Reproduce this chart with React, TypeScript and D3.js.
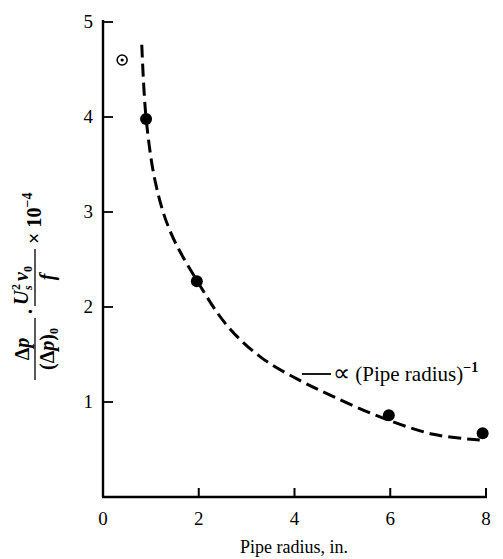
import React from "react";
import * as d3 from "d3";

const xTicks = [0, 2, 4, 6, 8];
const yTicks = [1, 2, 3, 4, 5];
const filledX = [0.9, 1.96, 5.97, 7.93];
const filledY = [3.98, 2.27, 0.86, 0.67];
const openX = [0.4];
const openY = [4.6];
const curveX = [0.81, 0.9, 1.1, 1.4, 1.96, 2.6, 3.3, 4.1, 4.8, 5.8, 6.9, 7.87];
const curveY = [4.76, 3.99, 3.3, 2.8, 2.28, 1.8, 1.47, 1.23, 1.06, 0.84, 0.66, 0.6];

const W = 503;
const H = 559;
const FONT = '"Liberation Serif", serif';

export default function App() {
  const x = d3.scaleLinear().domain([0, 8]).range([103, 486]);
  const y = d3.scaleLinear().domain([0, 5]).range([497, 22]);
  const line = d3
    .line<number>()
    .x((d, i) => x(curveX[i]))
    .y((d, i) => y(curveY[i]))
    .curve(d3.curveCatmullRom.alpha(0.5));
  const pathD = line(curveX) || "";
  const ts = { fontFamily: FONT };

  return (
    <svg
      width={W}
      height={H}
      style={{ position: "absolute", left: 0, top: 0, background: "#fff", fontFamily: FONT }}
    >
      <line x1={x(0)} y1={y(5) - 2} x2={x(0)} y2={y(0)} stroke="#000" strokeWidth={2.4} />
      <line x1={x(0) - 1} y1={y(0)} x2={x(8) + 1} y2={y(0)} stroke="#000" strokeWidth={2.4} />
      {yTicks.map((t) => (
        <g key={"y" + t}>
          <line x1={x(0)} x2={x(0) + 10} y1={y(t)} y2={y(t)} stroke="#000" strokeWidth={1.8} />
          <text x={x(0) - 10} y={y(t) + 6} fontSize={19} textAnchor="end" style={ts}>
            {t}
          </text>
        </g>
      ))}
      {xTicks.map((t) => (
        <g key={"x" + t}>
          {t > 0 && (
            <line x1={x(t)} x2={x(t)} y1={y(0)} y2={y(0) - 9} stroke="#000" strokeWidth={2} />
          )}
          <text x={x(t)} y={y(0) + 28} fontSize={19} textAnchor="middle" style={ts}>
            {t}
          </text>
        </g>
      ))}
      <text x={294} y={553} fontSize={18} textAnchor="middle" style={ts}>
        Pipe radius, in.
      </text>

      <path d={pathD} fill="none" stroke="#000" strokeWidth={3} strokeDasharray="13 6" />

      {filledX.map((v, i) => (
        <circle key={"f" + i} cx={x(v)} cy={y(filledY[i])} r={6} fill="#000" />
      ))}
      {openX.map((v, i) => (
        <g key={"o" + i}>
          <circle cx={x(v)} cy={y(openY[i])} r={5} fill="none" stroke="#000" strokeWidth={1.5} />
          <circle cx={x(v)} cy={y(openY[i])} r={1.6} fill="#000" />
        </g>
      ))}

      <line x1={302} x2={331} y1={374} y2={374} stroke="#000" strokeWidth={1.8} />
      <text x={333} y={381} fontSize={21} style={ts}>
        <tspan fontSize={24}>∝</tspan> (Pipe radius)
        <tspan dy={-9} fontSize={14} fontWeight="bold">
          −1
        </tspan>
      </text>

      <g transform="translate(35,275) rotate(-90)" fontSize={20} fontWeight="bold" style={ts}>
        <text x={-74} y={-6} textAnchor="middle" style={ts}>
          Δ<tspan fontStyle="italic">p</tspan>
        </text>
        <line x1={-105} x2={-43} y1={0} y2={0} stroke="#000" strokeWidth={1.3} />
        <text x={-74} y={19} textAnchor="middle" style={ts}>
          (Δ<tspan fontStyle="italic">p</tspan>)
          <tspan dy={4} fontSize={12}>0</tspan>
        </text>
        <text x={-39} y={-3} style={ts}>.</text>
        <text x={-30} y={-7} style={ts}>
          <tspan fontStyle="italic">U</tspan>
        </text>
        <text x={-15} y={-15} fontSize={12} style={ts}>2</text>
        <text x={-15} y={-3} fontSize={12} fontStyle="italic" style={ts}>s</text>
        <text x={-6} y={-7} fontStyle="italic" style={ts}>
          v<tspan dy={4} fontSize={12} fontStyle="normal">0</tspan>
        </text>
        <line x1={-31} x2={26} y1={0} y2={0} stroke="#000" strokeWidth={1.3} />
        <text x={-2} y={19} textAnchor="middle" fontStyle="italic" style={ts}>
          f
        </text>
        <text x={31} y={6} style={ts}>
          × 10
          <tspan dy={-9} fontSize={14}>−4</tspan>
        </text>
      </g>
    </svg>
  );
}
